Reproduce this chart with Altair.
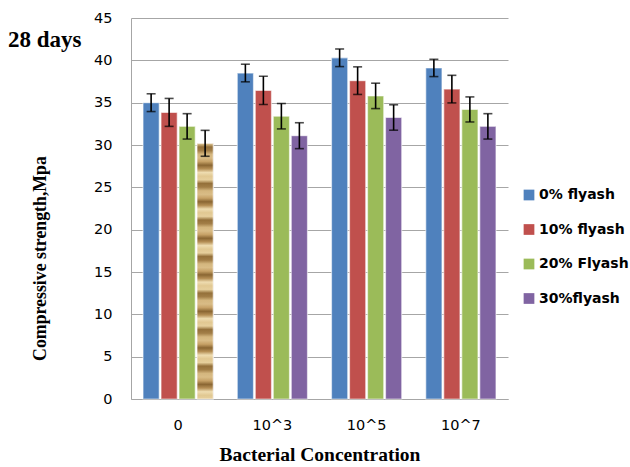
import altair as alt
import pandas as pd

concentrations = ["0", "10^3", "10^5", "10^7"]
series_names = ["0% flyash", "10% flyash", "20% Flyash", "30%flyash"]
colors = ["#4F81BD", "#C0504D", "#9BBB59", "#8064A2"]

s0 = [35.0, 38.5, 40.3, 39.1]
s10 = [33.85, 36.45, 37.6, 36.6]
s20 = [32.2, 33.4, 35.8, 34.2]
s30 = [30.2, 31.1, 33.25, 32.2]

e0 = [1.05, 1.04, 1.04, 1.02]
e10 = [1.65, 1.67, 1.63, 1.63]
e20 = [1.5, 1.5, 1.5, 1.48]
e30 = [1.53, 1.53, 1.5, 1.5]

rows = []
for name, vals, errs in zip(series_names, [s0, s10, s20, s30], [e0, e10, e20, e30]):
    for c, v, e in zip(concentrations, vals, errs):
        rows.append({"conc": c, "series": name, "value": v, "lo": v - e, "hi": v + e})
df = pd.DataFrame(rows)

GRID = "#A6A6A6"

x_enc = alt.X(
    "conc:N",
    sort=concentrations,
    scale=alt.Scale(paddingInner=0.236, paddingOuter=0.118),
    axis=alt.Axis(
        title="Bacterial Concentration",
        labelAngle=0,
        labelFont="DejaVu Sans",
        labelFontSize=14.5,
        labelColor="#000000",
        labelPadding=19,
        ticks=False,
        domainColor=GRID,
        titleFont="Liberation Serif",
        titleFontSize=19.5,
        titleFontWeight="bold",
        titleColor="#000000",
        titlePadding=14,
    ),
)
xo_enc = alt.XOffset("series:N", sort=series_names, scale=alt.Scale(paddingInner=0.1, paddingOuter=0.05))
y_axis = alt.Axis(
    title="Compressive strength,Mpa",
    values=[0, 5, 10, 15, 20, 25, 30, 35, 40, 45],
    grid=True,
    gridColor=GRID,
    ticks=False,
    domainColor=GRID,
    labelFont="DejaVu Sans",
    labelFontSize=14.5,
    labelColor="#000000",
    labelPadding=19,
    titleFont="Liberation Serif",
    titleFontSize=17.8,
    titleFontWeight="bold",
    titleColor="#000000",
    titlePadding=44,
    titleY=240,
)
y_scale = alt.Scale(domain=[0, 45], nice=False)

base = alt.Chart(df)

bars = base.mark_bar(stroke="white", strokeOpacity=0.55, strokeWidth=1.2).encode(
    x=x_enc,
    xOffset=xo_enc,
    y=alt.Y("value:Q", scale=y_scale, axis=y_axis),
    color=alt.Color(
        "series:N",
        sort=series_names,
        scale=alt.Scale(domain=series_names, range=colors),
        legend=alt.Legend(
            title=None,
            orient="none",
            legendX=391,
            legendY=170,
            symbolType="square",
            symbolSize=115,
            symbolStrokeWidth=0,
            labelFont="DejaVu Sans",
            labelFontSize=14,
            labelFontWeight="bold",
            labelColor="#000000",
            labelOffset=3,
            rowPadding=20.5,
            padding=0,
        ),
    ),
)

tan_stops = ["#E6CF9C", "#B58F55", "#D9BC86", "#94703A", "#EEDCB0", "#C6A166", "#A27E47", "#E1C892", "#8A6632", "#D4B67E"]
gradient = alt.LinearGradient(
    gradient="linear",
    x1=0, y1=0, x2=0, y2=1,
    stops=[alt.GradientStop(color=tan_stops[(i * 3) % len(tan_stops)], offset=i / 70) for i in range(71)],
)
tan = base.transform_filter(
    "datum.conc == '0' && datum.series == '30%flyash'"
).mark_bar(color=gradient, stroke="white", strokeOpacity=0.55, strokeWidth=1.2).encode(
    x=x_enc, xOffset=xo_enc, y=alt.Y("value:Q", scale=y_scale)
)

err = base.mark_rule(color="#000000", strokeWidth=1.6).encode(
    x=x_enc, xOffset=xo_enc, y=alt.Y("lo:Q", scale=y_scale), y2="hi:Q"
)
cap_lo = base.mark_tick(color="#000000", orient="horizontal", size=9, thickness=1.6).encode(
    x=x_enc, xOffset=xo_enc, y=alt.Y("lo:Q", scale=y_scale)
)
cap_hi = base.mark_tick(color="#000000", orient="horizontal", size=9, thickness=1.6).encode(
    x=x_enc, xOffset=xo_enc, y=alt.Y("hi:Q", scale=y_scale)
)

label = alt.Chart(pd.DataFrame({"t": ["28 days"]})).mark_text(
    font="Liberation Serif", fontSize=23, fontWeight="bold", color="#000000", align="left", baseline="alphabetic"
).encode(text="t:N", x=alt.value(-123), y=alt.value(29))

chart = alt.layer(bars, tan, err, cap_lo, cap_hi, label).properties(
    width=377,
    height=381,
    autosize=alt.AutoSizeParams(type="none"),
    padding={"left": 131, "top": 18, "right": 122, "bottom": 68},
    background="white",
).configure_view(stroke=None)

chart.save("out.html", embed_options={"renderer": "svg", "actions": False})
